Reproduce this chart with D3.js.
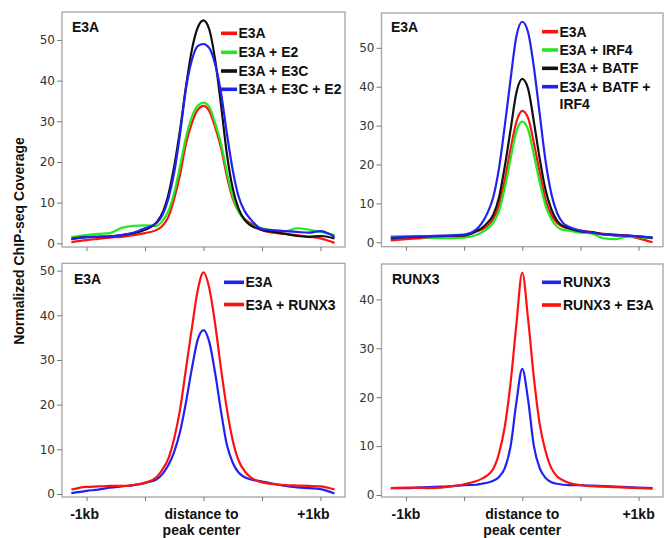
<!DOCTYPE html>
<html lang="en">
<head>
<meta charset="UTF-8">
<title>ChIP-seq coverage</title>
<style>
  body { margin: 0; background: #fff; }
  text { font-family: "Liberation Sans", Arial, sans-serif; }
  .bold { font-weight: bold; font-size: 14px; fill: #111; }
  .tick text { font-family: "DejaVu Sans", sans-serif; font-size: 12px; fill: #333; }
  .tick line { stroke: #777; }
</style>
</head>
<body>
<svg id="chart"></svg>
<script src="https://cdn.jsdelivr.net/npm/d3@7"></script>
<script>

// distance to peak center, kb
var positions = [-1.13, -1.0, -0.9, -0.8, -0.7, -0.6, -0.5, -0.4, -0.35, -0.3, -0.25, -0.2, -0.15, -0.1, -0.05,
                 0, 0.05, 0.1, 0.15, 0.2, 0.25, 0.3, 0.35, 0.4, 0.5, 0.6, 0.7, 0.8, 0.9, 1.0, 1.12];

// panel 1: E3A
var p1Names = ["E3A", "E3A + E2", "E3A + E3C", "E3A + E3C + E2"];
var p1E3A     = [0.3, 0.8, 1.1, 1.4, 1.6, 2.0, 2.5, 3.3, 4.3, 6.5, 11, 17, 24.5, 29.5, 32.8, 33.8, 32.5, 28.5, 23.5, 16.5, 11, 7.8, 6.0, 5.0, 3.2, 2.6, 2.3, 2.0, 1.6, 1.2, 0.1];
var p1E2      = [1.5, 2.0, 2.3, 2.5, 3.8, 4.3, 4.4, 4.3, 5.5, 8, 12.5, 19, 26, 31, 33.8, 34.6, 33.5, 29.5, 24.5, 17.5, 11.5, 7.8, 5.8, 4.5, 3.7, 3.2, 3.0, 3.7, 3.4, 2.8, 2.0];
var p1E3C     = [1.1, 1.5, 1.6, 1.7, 2.0, 2.5, 3.3, 5.2, 7.5, 12, 19, 28, 38.5, 47.5, 53, 54.8, 52.5, 45, 34, 22, 13.5, 8.5, 5.8, 4.5, 3.3, 2.8, 2.3, 1.8, 1.6, 1.8, 1.2];
var p1E3CE2   = [1.0, 1.5, 1.6, 1.7, 2.0, 2.6, 3.7, 5.0, 7, 11, 17.5, 27, 38, 45, 48.5, 49, 48, 44, 37, 27, 18, 11.5, 8, 6, 3.5, 3.2, 3.0, 2.8, 2.6, 3.0, 1.6];

// panel 2: E3A
var p2Names = ["E3A", "E3A + IRF4", "E3A + BATF", "E3A + BATF +\nIRF4"];
var p2E3A     = [0.5, 0.8, 1.0, 1.2, 1.3, 1.4, 1.6, 2.7, 3.3, 4.2, 6, 9.5, 16, 24, 31, 33.8, 32, 25.5, 18, 11, 7, 5, 4, 3.5, 3.0, 2.6, 2.2, 2.0, 1.7, 1.0, 0];
var p2IRF4    = [1.5, 1.6, 1.4, 1.2, 1.1, 1.1, 1.2, 1.8, 2.5, 3.5, 5, 8, 14, 21.5, 28.5, 31, 29, 22.5, 15.5, 9.5, 6, 4, 3.2, 3.0, 2.5, 2.2, 1.0, 0.8, 1.4, 1.3, 1.0];
var p2BATF    = [1.0, 1.3, 1.4, 1.5, 1.6, 1.7, 1.8, 2.8, 3.6, 5, 7, 11.5, 19.5, 29, 38.5, 42, 39.5, 31, 21.5, 13.5, 8.5, 5.5, 4.2, 3.6, 2.8, 2.6, 2.0, 1.8, 1.7, 1.5, 1.2];
var p2BATFIRF4 = [1.2, 1.4, 1.5, 1.6, 1.7, 1.8, 2.0, 3.2, 4.8, 7.5, 11.5, 19, 30, 42, 53, 56.7, 54, 45, 33, 21, 12.5, 7.5, 5, 4, 3.0, 2.5, 2.0, 1.8, 1.7, 1.5, 1.2];

// panel 3: E3A
var p3Names = ["E3A", "E3A + RUNX3"];
var p3E3A     = [0.2, 0.7, 1.0, 1.4, 1.7, 2.0, 2.5, 3.3, 4.5, 6.5, 9.5, 14, 20.5, 28, 34.5, 36.7, 34, 27, 18.5, 11, 7, 4.8, 3.8, 3.3, 2.8, 2.3, 1.8, 1.5, 1.3, 1.1, 0.1];
var p3RUNX3   = [1.0, 1.6, 1.7, 1.8, 1.8, 2.0, 2.5, 3.8, 5.5, 8, 12.5, 19, 28, 37, 45.5, 49.6, 46, 38, 28, 19, 12, 7.5, 5.2, 3.8, 2.6, 2.2, 2.0, 1.9, 1.8, 1.7, 1.0];

// panel 4: RUNX3
var p4Names = ["RUNX3", "RUNX3 + E3A"];
var p4RUNX3   = [1.4, 1.4, 1.5, 1.6, 1.7, 1.8, 2.0, 2.1, 2.3, 2.5, 2.9, 3.7, 5.5, 10, 19, 25.8, 19.5, 10, 5.5, 3.5, 2.6, 2.3, 2.1, 2.0, 2.0, 1.9, 1.8, 1.7, 1.6, 1.5, 1.4];
var p4E3A     = [1.4, 1.5, 1.5, 1.4, 1.5, 1.8, 2.2, 2.8, 3.3, 4.0, 5.3, 8.5, 14, 23, 35, 45.5, 36, 24, 14.5, 9, 5.5, 3.8, 3.0, 2.5, 2.0, 1.8, 1.7, 1.6, 1.5, 1.4, 1.3];

var yTicks50 = [0, 10, 20, 30, 40, 50];
var yTicks40 = [0, 10, 20, 30, 40];
var xTicks = [-1, -0.5, 0, 0.5, 1];
var xTickLabels = ["-1kb", "distance to", "+1kb"];
var xLabelAt = [-1, 0, 1];
var yTitle = "Normalized ChIP-seq Coverage";

var RED = "#ff1010", GREEN = "#22e822", BLACK = "#111", BLUE = "#2222f0";

var svgWidth = 667, svgHeight = 538;
var svg = d3.select('#chart').attr('width', svgWidth).attr('height', svgHeight);

var panels = [
    { left: 62, right: 345, top: 12, bottom: 247, yDomain: [-0.91, 56.87], yTicks: yTicks50,
      title: "E3A", tx: 72, ty: 32,
      names: p1Names, values: [p1E3A, p1E2, p1E3C, p1E3CE2], colors: [RED, GREEN, BLACK, BLUE],
      leg: { x0: 221, x1: 237, tx: 238.5, rows: [33.3, 52.3, 71, 89.3] }, xLabels: false },
    { left: 381.5, right: 663, top: 13, bottom: 246.7, yDomain: [-1.13, 58.95], yTicks: yTicks50,
      title: "E3A", tx: 391, ty: 32,
      names: p2Names, values: [p2E3A, p2IRF4, p2BATF, p2BATFIRF4], colors: [RED, GREEN, BLACK, BLUE],
      leg: { x0: 542, x1: 558, tx: 559.5, rows: [31.7, 50, 68.3, 86.7] }, xLabels: false },
    { left: 62, right: 345, top: 263.3, bottom: 497, yDomain: [-0.67, 51.64], yTicks: yTicks50,
      title: "E3A", tx: 74, ty: 283.5,
      names: p3Names, values: [p3E3A, p3RUNX3], colors: [BLUE, RED],
      leg: { x0: 224, x1: 244, tx: 245.5, rows: [282.3, 304.5] }, xLabels: true, labelDx: [-2, -2, -7] },
    { left: 381.5, right: 663, top: 264, bottom: 497, yDomain: [-0.41, 47.24], yTicks: yTicks40,
      title: "RUNX3", tx: 392, ty: 283.5,
      names: p4Names, values: [p4RUNX3, p4E3A], colors: [BLUE, RED],
      leg: { x0: 542, x1: 561, tx: 563, rows: [282.3, 305] }, xLabels: true, labelDx: [0, 0, 0] }
];

panels.forEach(function (p) {
    var x = d3.scaleLinear().domain([-1.21, 1.21]).range([p.left, p.right]);
    var y = d3.scaleLinear().domain(p.yDomain).range([p.bottom, p.top]);
    var g = svg.append("g");

    g.append("rect")
        .attr("x", p.left).attr("y", p.top)
        .attr("width", p.right - p.left).attr("height", p.bottom - p.top)
        .style("fill", "none").style("stroke", "#aaa").style("stroke-width", 1.4);

    var yAxis = g.append("g")
        .attr("transform", "translate(" + p.left + ",0)")
        .call(d3.axisLeft(y).tickValues(p.yTicks).tickSize(5).tickPadding(2));
    yAxis.select(".domain").remove();

    var xAxis = g.append("g")
        .attr("transform", "translate(0," + p.bottom + ")")
        .call(d3.axisBottom(x).tickValues(xTicks).tickSize(4).tickFormat(""));
    xAxis.select(".domain").remove();

    var line = d3.line()
        .x(function (d, i) { return x(positions[i]); })
        .y(function (d) { return y(d); })
        .curve(d3.curveMonotoneX);

    p.values.forEach(function (vals, k) {
        g.append("path")
            .datum(vals)
            .attr("d", line)
            .style("fill", "none")
            .style("stroke", p.colors[k])
            .style("stroke-width", 2.2)
            .style("stroke-linejoin", "round");
    });

    g.append("text").attr("class", "bold")
        .attr("x", p.tx).attr("y", p.ty).text(p.title);

    // legend
    p.names.forEach(function (name, k) {
        var ry = p.leg.rows[k];
        g.append("line")
            .attr("x1", p.leg.x0).attr("x2", p.leg.x1)
            .attr("y1", ry).attr("y2", ry)
            .style("stroke", p.colors[k]).style("stroke-width", 3.6);
        var t = g.append("text").attr("class", "bold")
            .attr("x", p.leg.tx).attr("y", ry + 5);
        name.split("\n").forEach(function (part, j) {
            t.append("tspan").attr("x", p.leg.tx).attr("dy", j === 0 ? 0 : 17.6).text(part);
        });
    });

    if (p.xLabels) {
        xTickLabels.forEach(function (lab, k) {
            g.append("text").attr("class", "bold")
                .attr("x", x(xLabelAt[k]) + p.labelDx[k]).attr("y", 518.5)
                .attr("text-anchor", "middle").text(lab);
        });
        g.append("text").attr("class", "bold")
            .attr("x", x(0) + p.labelDx[1]).attr("y", 535)
            .attr("text-anchor", "middle").text("peak center");
    }
});

svg.append("text").attr("class", "bold")
    .attr("transform", "translate(24,241) rotate(-90)")
    .attr("text-anchor", "middle")
    .text(yTitle);

</script>
</body>
</html>
